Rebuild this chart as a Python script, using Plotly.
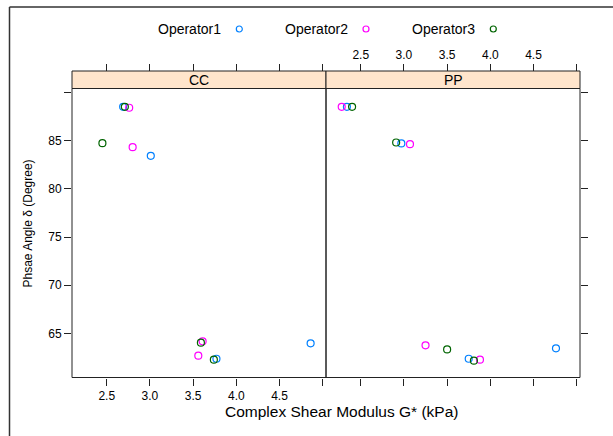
import plotly.graph_objects as go

# ---------------- data ----------------
operators = ["Operator1", "Operator2", "Operator3"]
panels = ["CC", "PP"]
x_ticks = [2.5, 3.0, 3.5, 4.0, 4.5, 5.0]
x_ticktext = ["2.5", "3.0", "3.5", "4.0", "4.5", ""]
y_ticks = [65, 70, 75, 80, 85, 90]
y_ticktext = ["65", "70", "75", "80", "85", ""]

# Complex shear modulus G* (kPa) and phase angle (degree)
CC_OP1_G = [2.69, 3.01, 3.77, 4.86]
CC_OP1_D = [88.54, 83.44, 62.36, 63.96]
CC_OP2_G = [2.76, 2.80, 3.61, 3.56]
CC_OP2_D = [88.44, 84.34, 64.17, 62.68]
CC_OP3_G = [2.71, 2.45, 3.59, 3.74]
CC_OP3_D = [88.54, 84.76, 64.03, 62.26]

PP_OP1_G = [2.34, 2.97, 3.75, 4.76]
PP_OP1_D = [88.54, 84.73, 62.36, 63.44]
PP_OP2_G = [2.28, 3.07, 3.25, 3.88]
PP_OP2_D = [88.54, 84.66, 63.75, 62.26]
PP_OP3_G = [2.40, 2.91, 3.50, 3.81]
PP_OP3_D = [88.54, 84.83, 63.33, 62.16]

colors = ["#0080ff", "#ff00ff", "#006400"]
cc_data = [(CC_OP1_G, CC_OP1_D), (CC_OP2_G, CC_OP2_D), (CC_OP3_G, CC_OP3_D)]
pp_data = [(PP_OP1_G, PP_OP1_D), (PP_OP2_G, PP_OP2_D), (PP_OP3_G, PP_OP3_D)]

# ---------------- layout geometry ----------------
W, H = 613, 436
def X(px): return px / W
def Y(py): return 1 - py / H

xr = [2.098, 5.038]
yr = [60.41, 90.44]
FONT = "Liberation Sans, Arial, Helvetica, sans-serif"
AX = "#222222"

fig = go.Figure()
for i, op in enumerate(operators):
    g, d = cc_data[i]
    fig.add_trace(go.Scatter(x=g, y=d, mode="markers", xaxis="x", yaxis="y",
                             marker=dict(symbol="circle-open", size=7, color=colors[i],
                                         line=dict(width=1.2, color=colors[i])),
                             name=op, showlegend=False))
    g, d = pp_data[i]
    fig.add_trace(go.Scatter(x=g, y=d, mode="markers", xaxis="x2", yaxis="y2",
                             marker=dict(symbol="circle-open", size=7, color=colors[i],
                                         line=dict(width=1.2, color=colors[i])),
                             name=op, showlegend=False))

# invisible traces to activate the top axes
fig.add_trace(go.Scatter(x=CC_OP1_G, y=CC_OP1_D, xaxis="x3", yaxis="y", mode="markers",
                         marker=dict(opacity=0), hoverinfo="skip", showlegend=False))
fig.add_trace(go.Scatter(x=PP_OP1_G, y=PP_OP1_D, xaxis="x4", yaxis="y2", mode="markers",
                         marker=dict(opacity=0), hoverinfo="skip", showlegend=False))

common_x = dict(range=xr, tickvals=x_ticks, ticktext=x_ticktext, ticks="outside", ticklen=7,
                tickcolor=AX, tickwidth=1, showline=False, showgrid=False, zeroline=False,
                tickfont=dict(size=12, color="black", family=FONT))
common_y = dict(range=yr, tickvals=y_ticks, ticktext=y_ticktext, ticks="outside", ticklen=7,
                tickcolor=AX, tickwidth=1, showline=False, showgrid=False, zeroline=False,
                tickfont=dict(size=12, color="black", family=FONT))

ydom = [Y(377.5), Y(88.5)]
fig.update_layout(
    width=W, height=H, margin=dict(l=0, r=0, t=0, b=0),
    paper_bgcolor="white", plot_bgcolor="white",
    font=dict(family=FONT, color="black"),
    showlegend=False,
    xaxis=dict(domain=[X(72), X(326)], anchor="y", side="bottom", **common_x),
    xaxis2=dict(domain=[X(326), X(580)], anchor="y2", side="bottom", showticklabels=False,
                **common_x),
    xaxis3=dict(overlaying="x", side="top", anchor="free", position=Y(71),
                showticklabels=False, **common_x),
    xaxis4=dict(overlaying="x2", side="top", anchor="free", position=Y(71), **common_x),
    yaxis=dict(domain=ydom, anchor="x", side="left", **common_y),
    yaxis2=dict(domain=ydom, anchor="x2", side="right", showticklabels=False, **common_y),
)

shapes = []
# panel borders and strips
for (l, r) in [(72, 326), (326, 580)]:
    shapes.append(dict(type="rect", xref="paper", yref="paper", x0=X(l), x1=X(r),
                       y0=Y(88.5), y1=Y(71), fillcolor="#ffe5cc",
                       line=dict(color=AX, width=1), layer="below"))
    shapes.append(dict(type="rect", xref="paper", yref="paper", x0=X(l), x1=X(r),
                       y0=Y(377.5), y1=Y(88.5), fillcolor="rgba(0,0,0,0)",
                       line=dict(color=AX, width=1)))
# outer frame lines (top and left)
shapes.append(dict(type="line", xref="paper", yref="paper", x0=X(9.5), x1=1.0,
                   y0=Y(7), y1=Y(7), line=dict(color="#333333", width=1.5)))
shapes.append(dict(type="line", xref="paper", yref="paper", x0=X(9.5), x1=X(9.5),
                   y0=Y(7), y1=0, line=dict(color="#333333", width=1.5)))

annotations = []
# strip labels
for name, cx in zip(panels, [199, 453]):
    annotations.append(dict(text=name, x=X(cx), y=Y(80), xref="paper", yref="paper",
                            showarrow=False, xanchor="center", yanchor="middle",
                            font=dict(size=14, family=FONT, color="black")))
# legend (text then marker)
leg_text_x = [156, 283, 410]
leg_mark_x = [239.3, 366, 493.3]
for i, op in enumerate(operators):
    annotations.append(dict(text=op, x=X(leg_text_x[i]), y=Y(29.5), xref="paper", yref="paper",
                            showarrow=False, xanchor="left", yanchor="middle",
                            font=dict(size=14, family=FONT, color="black")))
    cx, cy, rr = leg_mark_x[i], 29, 3
    shapes.append(dict(type="circle", xref="paper", yref="paper",
                       x0=X(cx - rr), x1=X(cx + rr), y0=Y(cy + rr), y1=Y(cy - rr),
                       line=dict(color=colors[i], width=1.2)))
# axis titles
annotations.append(dict(text="Complex Shear Modulus G* (kPa)", x=X(341), y=Y(411.5),
                        xref="paper", yref="paper", showarrow=False,
                        xanchor="center", yanchor="middle",
                        font=dict(size=15.5, family=FONT, color="black")))
annotations.append(dict(text="Phsae Angle δ (Degree)", x=X(27.5), y=Y(224),
                        xref="paper", yref="paper", showarrow=False, textangle=-90,
                        xanchor="center", yanchor="middle",
                        font=dict(size=12, family=FONT, color="black")))

fig.update_layout(shapes=shapes, annotations=annotations)
fig.write_html("out.html")
